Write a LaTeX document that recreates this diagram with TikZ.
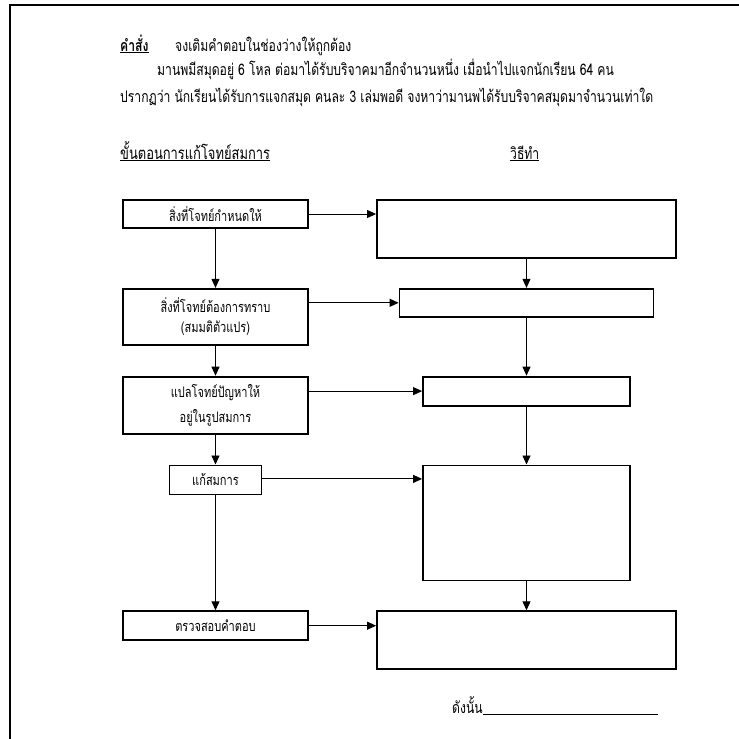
\documentclass[tikz,border=0pt]{standalone}
\usepackage{fontspec}
\setmainfont[Script=Thai,FakeStretch=0.76]{Loma}
\usepackage{tikz}
\usetikzlibrary{arrows.meta,positioning}

\begin{document}
\begin{tikzpicture}[auto,>={Triangle[length=9pt,width=8pt]},x=1pt,y=1pt,font=\fontsize{16pt}{18pt}\selectfont]
	\tikzstyle{block} = [draw, rectangle, line width=1.8pt, inner sep=0pt, align=center, font=\fontsize{14.5pt}{16pt}\selectfont]
	\tikzstyle{line} = [->, line width=0.9pt]
	\tikzstyle{txt} = [anchor=base west, inner sep=0pt]

	\useasboundingbox (0,0) rectangle (739,-739);
	\draw [line width=2.3pt] (10.2,-739) -- (10.2,-5.2) -- (739,-5.2);

	\node [txt] (order) at (120,-51) {\textbf{\underline{คำสั่ง}}};
	\node [txt] (orderdesc) at (175,-51) {จงเติมคำตอบในช่องว่างให้ถูกต้อง};
	\node [txt] (probA) at (157,-75) {มานพมีสมุดอยู่ 6 โหล ต่อมาได้รับบริจาคมาอีกจำนวนหนึ่ง เมื่อนำไปแจกนักเรียน 64 คน};
	\node [txt] (probB) at (120,-102) {ปรากฏว่า นักเรียนได้รับการแจกสมุด คนละ 3 เล่มพอดี จงหาว่ามานพได้รับบริจาคสมุดมาจำนวนเท่าใด};
	\node [txt, font=\fontsize{17pt}{19pt}\selectfont] (stephead) at (120,-159) {\underline{ขั้นตอนการแก้โจทย์สมการ}};
	\node [txt] (workhead) at (510,-159) {\underline{วิธีทำ}};

	\node [block, minimum width=185pt, minimum height=28pt] (given) at (215.5,-214) {สิ่งที่โจทย์กำหนดให้};
	\node [block, minimum width=185pt, minimum height=56pt, below = 59pt of given] (unknown) {สิ่งที่โจทย์ต้องการทราบ\\[4pt](สมมติตัวแปร)};
	\node [block, minimum width=185pt, minimum height=57pt, below = 30pt of unknown] (translate) {แปลโจทย์ปัญหาให้\\[8pt]อยู่ในรูปสมการ};
	\node [block, minimum width=92pt, minimum height=29pt, below = 30pt of translate] (solve) {แก้สมการ};
	\node [block, minimum width=185pt, minimum height=29pt, below = 115pt of solve] (check) {ตรวจสอบคำตอบ};

	\node [block, minimum width=299pt, minimum height=58pt] (workA) at (526.5,-229) {};
	\node [block, minimum width=254pt, minimum height=28pt, below = 29pt of workA] (workB) {};
	\node [block, minimum width=207pt, minimum height=29pt, below = 58pt of workB] (workC) {};
	\node [block, minimum width=207pt, minimum height=115pt, below = 58pt of workC] (workD) {};
	\node [block, minimum width=299pt, minimum height=58pt, below = 29pt of workD] (workE) {};

	\node [txt] (answer) at (452,-713) {ดังนั้น\underline{\hspace{175pt}}};

	\draw [line] (given) -- (unknown);
	\draw [line] (unknown) -- (translate);
	\draw [line] (translate) -- (solve);
	\draw [line] (solve) -- (check);

	\draw [line] (workA) -- (workB);
	\draw [line] (workB) -- (workC);
	\draw [line] (workC) -- (workD);
	\draw [line] (workD) -- (workE);

	\draw [line] (given.east) -- (given.east -| workA.west);
	\draw [line] (unknown.east |- workB.west) -- (workB.west);
	\draw [line] (translate.east |- workC.west) -- (workC.west);
	\draw [line] ([yshift=1pt]solve.east) -- ([yshift=1pt]solve.east -| workD.west);
	\draw [line] (check.east) -- (check.east -| workE.west);
\end{tikzpicture}
\end{document}
